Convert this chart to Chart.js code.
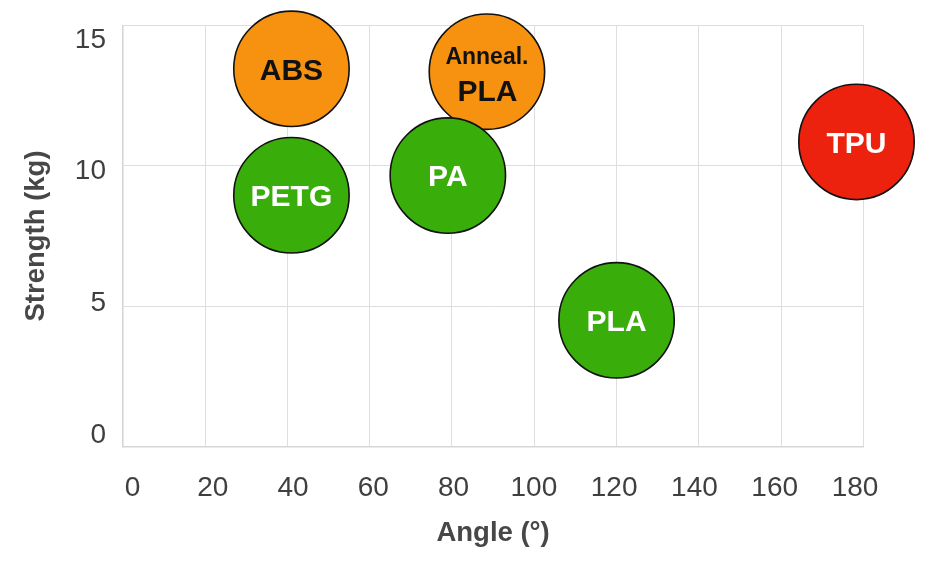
<!DOCTYPE html>
<html>
<head>
<meta charset="utf-8">
<script src="https://cdn.jsdelivr.net/npm/chart.js@4"></script>
<style>
  html, body { margin: 0; padding: 0; background: #ffffff; }
  #wrap { width: 940px; height: 561px; position: relative; }
</style>
</head>
<body>
<div id="wrap"><canvas id="c"></canvas></div>
<script>
// ---- data ----
const materials = ["ABS", "Anneal. PLA", "PETG", "PA", "PLA", "TPU"];
const angles = [41, 88.5, 41, 79, 120, 178.3];
const strengths = [13.45, 13.35, 8.95, 9.65, 4.5, 10.85];
const xTicks = [0, 20, 40, 60, 80, 100, 120, 140, 160, 180];
const yTicks = [0, 5, 10, 15];

// ---- styles ----
const FONT = "'Liberation Sans', Arial, Helvetica, sans-serif";
const ORANGE = "#F79211", GREEN = "#39AD0A", RED = "#EC220F";
const fillColors = [ORANGE, ORANGE, GREEN, GREEN, GREEN, RED];
const textColors = ["#111111", "#111111", "#ffffff", "#ffffff", "#ffffff", "#ffffff"];
const gridColor = "#dedede";
const tickColor = "#3f3f3f";
const titleColor = "#474747";

const points = materials.map((m, i) => ({ x: angles[i], y: strengths[i] }));

const bubbleLabels = {
  id: "bubbleLabels",
  afterDatasetsDraw(chart) {
    const ctx = chart.ctx;
    const meta = chart.getDatasetMeta(0);
    ctx.save();
    ctx.textAlign = "center";
    ctx.textBaseline = "alphabetic";
    meta.data.forEach((el, i) => {
      const name = materials[i];
      ctx.fillStyle = textColors[i];
      if (name.indexOf(" ") > 0) {
        const parts = name.split(" ");
        ctx.font = "bold 23px " + FONT;
        ctx.fillText(parts[0], el.x, el.y - 7.7);
        ctx.font = "bold 30px " + FONT;
        ctx.fillText(parts[1], el.x + 0.5, el.y + 29.3);
      } else {
        ctx.font = "bold 30px " + FONT;
        ctx.fillText(name, el.x, el.y + 10.7);
      }
    });
    ctx.restore();
  }
};

function noPad(s) {
  s.paddingTop = 0; s.paddingBottom = 0; s.paddingLeft = 0; s.paddingRight = 0;
}

new Chart(document.getElementById("c"), {
  type: "bubble",
  data: {
    datasets: [{
      data: points,
      backgroundColor: fillColors,
      hoverBackgroundColor: fillColors,
      borderColor: "#111111",
      hoverBorderColor: "#111111",
      borderWidth: 1.6,
      hoverBorderWidth: 1.6,
      radius: 57.7,
      hoverRadius: 0,
      clip: false
    }]
  },
  options: {
    responsive: true,
    maintainAspectRatio: false,
    animation: false,
    events: [],
    layout: { autoPadding: false, padding: { left: 0, top: 25.3, right: 76.5, bottom: 0 } },
    plugins: { legend: { display: false }, tooltip: { enabled: false } },
    scales: {
      x: {
        type: "linear", position: "bottom", min: 0, max: 180, weight: 0,
        ticks: { display: false, stepSize: 20 },
        afterBuildTicks: s => { s.ticks = xTicks.map(v => ({ value: v })); },
        afterFit: noPad,
        grid: { color: gridColor, lineWidth: 1, drawTicks: false },
        border: { color: "#d6d6d6", width: 1.6 }
      },
      xl: {
        type: "linear", position: "bottom", min: -2.44, max: 182.12, weight: 5,
        afterBuildTicks: s => { s.ticks = xTicks.map(v => ({ value: v })); },
        afterFit: s => { s.height = 561 - 446.7; noPad(s); },
        ticks: {
          autoSkip: false, maxRotation: 0, padding: 24.5,
          color: tickColor, font: { family: FONT, size: 28 },
          callback: v => String(v)
        },
        grid: { display: false, drawTicks: false },
        border: { display: false },
        title: {
          display: true, text: "Angle (°)", color: titleColor,
          font: { family: FONT, size: 27.5, weight: "bold" },
          padding: { top: 0, bottom: 11.5 }
        }
      },
      y: {
        type: "linear", position: "left", min: 0, max: 15, weight: 0,
        ticks: { display: false, stepSize: 5 },
        afterBuildTicks: s => { s.ticks = yTicks.map(v => ({ value: v })); },
        afterFit: noPad,
        grid: { color: gridColor, lineWidth: 1, drawTicks: false },
        border: { color: "#d6d6d6", width: 1.6 }
      },
      yl: {
        type: "linear", position: "left", min: -0.444, max: 15.558, weight: 5,
        afterBuildTicks: s => { s.ticks = yTicks.map(v => ({ value: v })); },
        afterFit: s => { s.width = 122.7; noPad(s); },
        ticks: {
          autoSkip: false, padding: 16.7,
          color: tickColor, font: { family: FONT, size: 28 },
          callback: v => String(v)
        },
        grid: { display: false, drawTicks: false },
        border: { display: false },
        title: {
          display: true, text: "Strength (kg)", color: titleColor,
          font: { family: FONT, size: 27.5, weight: "bold" },
          padding: { top: 19.5, bottom: 4 }
        }
      }
    }
  },
  plugins: [bubbleLabels]
});
</script>
</body>
</html>
